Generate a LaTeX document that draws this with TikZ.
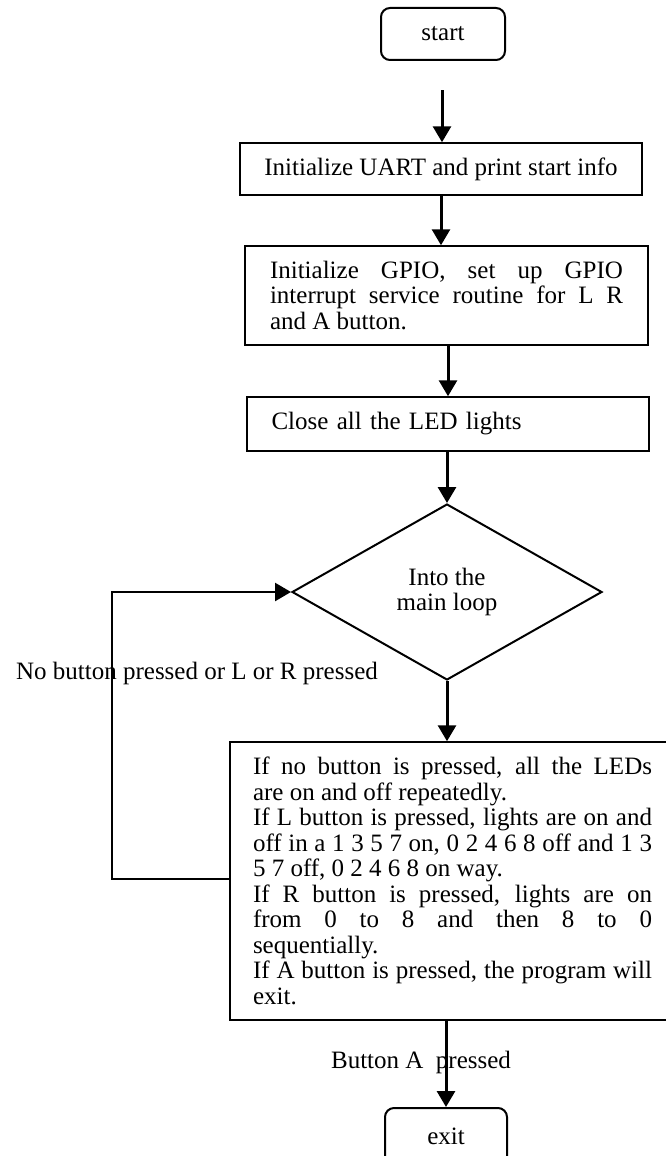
\documentclass[tikz,border=0pt]{standalone}
\usepackage{fontspec}
\setmainfont{Liberation Serif}
\usetikzlibrary{arrows.meta,shapes.geometric}
\setlength{\parindent}{0pt}
\begin{document}
\begin{tikzpicture}[x=1pt,y=-1pt,
  txt/.style={font=\fontsize{25}{25.5}\selectfont},
  box/.style={draw, line width=1.5pt, txt, inner sep=0pt},
  term/.style={draw, line width=2pt, rounded corners=9pt, txt, inner sep=0pt},
  decision/.style={diamond, draw, line width=2pt, txt, inner sep=0pt, align=center},
  lbl/.style={inner sep=0pt, txt},
  arr/.style={line width=3pt, -{Triangle[width=18pt,length=16pt]}},
  looparr/.style={line width=2.5pt, -{Triangle[width=18pt,length=16pt]}}
]
\useasboundingbox (0,0) rectangle (666,1156);
\fill[white] (0,0) rectangle (666,1156);

\node[term, minimum width=124pt, minimum height=52pt] (start) at (443,34) {start};
\node[box, minimum width=402pt, minimum height=52pt] (b1) at (441,169) {Initialize UART and print start info};
\node[box, minimum width=403pt, minimum height=99pt, text width=353pt, align=justify] (b2) at (446.5,295.5)
  {Initialize GPIO, set up GPIO\linebreak interrupt service routine for L R\linebreak and A button.};
\node[box, minimum width=402pt, minimum height=54pt, text width=353pt, align=left] (b3) at (448,424) {Close all the LED lights};
\node[decision, minimum width=310pt, minimum height=176pt] (dia) at (447,592) {Into the\\main loop};
\node[box, minimum width=445pt, minimum height=278pt, text width=399pt, align=justify] (big) at (452.5,881)
  {If no button is pressed, all the LEDs\linebreak are on and off repeatedly.\par
   If L button is pressed, lights are on and\linebreak off in a 1 3 5 7 on, 0 2 4 6 8 off and 1 3\linebreak 5 7 off, 0 2 4 6 8 on way.\par
   If R button is pressed, lights are on\linebreak from 0 to 8 and then 8 to 0\linebreak sequentially.\par
   If A button is pressed, the program will\linebreak exit.};
\node[term, minimum width=122pt, minimum height=57pt] (exit) at (446,1136.5) {exit};

\node[lbl] (l1) at (197,673) {No button pressed or L or R pressed};
\node[lbl] (l2) at (421,1062) {Button A\ \ pressed};

\coordinate (s0) at (442,90);
\coordinate (lp) at (112,592);

\draw[arr] (s0) -- (s0 |- b1.north);
\draw[arr] (b1.south) -- (b1.south |- b2.north);
\draw[arr] (b3.north |- b2.south) -- (b3.north);
\draw[arr] (dia.north |- b3.south) -- (dia.north);
\draw[arr] (dia.south) -- (dia.south |- big.north);
\draw[looparr] (big.west |- 0,879) -| (lp) -- (dia.west);
\draw[arr] (exit.north |- big.south) -- (exit.north);
\end{tikzpicture}
\end{document}
